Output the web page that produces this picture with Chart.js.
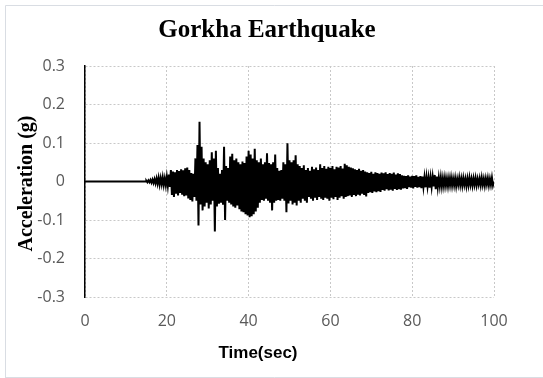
<!DOCTYPE html>
<html>
<head>
<meta charset="utf-8">
<script src="https://cdn.jsdelivr.net/npm/chart.js@4/dist/chart.umd.min.js"></script>
<style>
  html, body { margin: 0; padding: 0; background: #ffffff; }
  #wrap { position: relative; width: 543px; height: 378px; }
</style>
</head>
<body>
<div id="wrap"><canvas id="c" width="543" height="378"></canvas></div>
<script>
// Gorkha earthquake ground-motion record: acceleration (g) against time (s)
const chartTitle = 'Gorkha Earthquake';
const xAxisTitle = 'Time(sec)';
const yAxisTitle = 'Acceleration (g)';

const xTicks = [0, 20, 40, 60, 80, 100];
const yTicks = [0.3, 0.2, 0.1, 0, -0.1, -0.2, -0.3];

// quiet lead-in before the shaking arrives
const quietTime = [0, 15];
const quietAccel = [0, 0];

// strong-motion part, sampled every 0.25 s from 15 s to 100 s
const motionStart = 15;
const motionStep = 0.25;
const motionAccel = [
  0.002,-0.002, 0.003,-0.002, 0.004,-0.003, 0.005,-0.004, 0.006,-0.005, 0.008,-0.006, 0.010,-0.008, 0.009,-0.007, 0.011,-0.009, 0.008,-0.010,
  0.012,-0.011, 0.018,-0.014, 0.030,-0.035, 0.026,-0.040, 0.024,-0.032, 0.030,-0.036, 0.027,-0.030, 0.032,-0.034, 0.029,-0.038, 0.034,-0.036,
  0.036,-0.044, 0.030,-0.048, 0.022,-0.052, 0.020,-0.040, 0.060,-0.050, 0.095,-0.114, 0.155,-0.060, 0.090,-0.075, 0.060,-0.065, 0.050,-0.055,
  0.045,-0.070, 0.055,-0.060, 0.076,-0.050, 0.060,-0.130, 0.080,-0.065, 0.035,-0.058, 0.020,-0.055, 0.030,-0.060, 0.090,-0.100, 0.040,-0.050,
  0.035,-0.055, 0.065,-0.060, 0.072,-0.065, 0.055,-0.068, 0.060,-0.062, 0.050,-0.072, 0.045,-0.078, 0.052,-0.080, 0.048,-0.085, 0.065,-0.088,
  0.080,-0.093, 0.070,-0.090, 0.060,-0.085, 0.085,-0.078, 0.055,-0.068, 0.050,-0.055, 0.060,-0.048, 0.045,-0.050, 0.050,-0.045, 0.073,-0.050,
  0.048,-0.055, 0.045,-0.075, 0.050,-0.055, 0.070,-0.050, 0.035,-0.048, 0.028,-0.050, 0.030,-0.045, 0.050,-0.050, 0.045,-0.080, 0.099,-0.057,
  0.055,-0.050, 0.050,-0.060, 0.055,-0.055, 0.068,-0.062, 0.045,-0.050, 0.040,-0.055, 0.035,-0.045, 0.042,-0.050, 0.030,-0.055, 0.035,-0.040,
  0.028,-0.045, 0.038,-0.050, 0.032,-0.042, 0.036,-0.048, 0.030,-0.040, 0.045,-0.045, 0.035,-0.048, 0.040,-0.042, 0.033,-0.045, 0.038,-0.050,
  0.035,-0.042, 0.040,-0.046, 0.032,-0.040, 0.038,-0.048, 0.036,-0.042, 0.040,-0.038, 0.034,-0.045, 0.046,-0.040, 0.042,-0.038, 0.038,-0.036,
  0.036,-0.040, 0.034,-0.035, 0.032,-0.038, 0.030,-0.034, 0.033,-0.036, 0.028,-0.032, 0.030,-0.035, 0.026,-0.039, 0.024,-0.030, 0.022,-0.028,
  0.025,-0.030, 0.020,-0.026, 0.024,-0.028, 0.022,-0.025, 0.020,-0.027, 0.023,-0.022, 0.021,-0.024, 0.024,-0.020, 0.019,-0.023, 0.022,-0.021,
  0.020,-0.024, 0.023,-0.019, 0.018,-0.022, 0.021,-0.020, 0.019,-0.021, 0.016,-0.018, 0.015,-0.017, 0.014,-0.019, 0.016,-0.015, 0.013,-0.016,
  0.015,-0.018, 0.014,-0.014, 0.016,-0.016, 0.012,-0.015, 0.014,-0.017, 0.013,-0.014, 0.011,-0.015, 0.012,-0.013, 0.010,-0.016, 0.011,-0.014,
  0.012,-0.013, 0.017,-0.020, 0.013,-0.015, 0.010,-0.012, 0.011,-0.013, 0.009,-0.012, 0.010,-0.011, 0.008,-0.012, 0.009,-0.010, 0.010,-0.011,
  0.008,-0.010, 0.009,-0.012, 0.007,-0.009, 0.010,-0.010, 0.008,-0.011, 0.009,-0.009, 0.007,-0.012, 0.008,-0.010, 0.010,-0.009, 0.007,-0.011,
  0.008,-0.009, 0.009,-0.010, 0.007,-0.008, 0.008,-0.010, 0.010,-0.009, 0.007,-0.011, 0.008,-0.008, 0.009,-0.010, 0.007,-0.009, 0.010,-0.010,
  0.000
];

const points = quietTime.map((t, i) => ({ x: t, y: quietAccel[i] }))
  .concat(motionAccel.map((a, i) => ({ x: motionStart + i * motionStep, y: a })));

const tickFont = { family: "'Open Sans', sans-serif", size: 16 };
const tickColor = '#595959';
const gridColor = '#c8c8c8';

// frame and serif/sans titles drawn around the plot
const decorations = {
  id: 'decorations',
  beforeDraw(chart) {
    const ctx = chart.ctx;
    ctx.save();
    ctx.fillStyle = '#ffffff';
    ctx.fillRect(0, 0, chart.width, chart.height);
    ctx.strokeStyle = '#d9dde3';
    ctx.lineWidth = 1;
    ctx.beginPath();
    ctx.moveTo(5.5, chart.height);
    ctx.lineTo(5.5, 5.5);
    ctx.lineTo(chart.width, 5.5);
    ctx.moveTo(5.5, 377.5);
    ctx.lineTo(chart.width, 377.5);
    ctx.stroke();
    ctx.restore();
  },
  afterDraw(chart) {
    const ctx = chart.ctx;
    const area = chart.chartArea;
    ctx.save();
    ctx.fillStyle = '#000000';
    ctx.textAlign = 'center';
    ctx.textBaseline = 'alphabetic';
    ctx.font = "bold 25px 'Liberation Serif', 'Times New Roman', serif";
    ctx.fillText(chartTitle, 267, 37);

    ctx.font = "bold 17px 'Liberation Sans', Arial, sans-serif";
    ctx.textBaseline = 'middle';
    ctx.fillText(xAxisTitle, 258, 353);

    ctx.translate(27, (area.top + area.bottom) / 2 + 2);
    ctx.rotate(-Math.PI / 2);
    ctx.font = "bold 20px 'Liberation Serif', 'Times New Roman', serif";
    ctx.fillText(yAxisTitle, 0, 0);
    ctx.restore();
  }
};

new Chart(document.getElementById('c'), {
  type: 'line',
  data: {
    datasets: [{
      data: points,
      borderColor: '#000000',
      borderWidth: 2,
      pointRadius: 0,
      tension: 0,
      fill: false
    }]
  },
  options: {
    responsive: false,
    animation: false,
    parsing: false,
    layout: { padding: { top: 66, left: 0, right: 49, bottom: 0 } },
    plugins: {
      legend: { display: false },
      tooltip: { enabled: false },
      title: { display: false }
    },
    scales: {
      x: {
        type: 'linear',
        min: 0,
        max: 100,
        afterFit(scale) { scale.height = 81; },
        afterBuildTicks(scale) { scale.ticks = xTicks.map(v => ({ value: v })); },
        ticks: {
          font: tickFont,
          color: tickColor,
          padding: 15,
          maxRotation: 0,
          callback: v => String(v)
        },
        grid: { color: gridColor, lineWidth: 1, drawTicks: false },
        border: { display: false, dash: [2, 2] }
      },
      y: {
        type: 'linear',
        min: -0.3,
        max: 0.3,
        afterFit(scale) { scale.width = 85; },
        afterBuildTicks(scale) { scale.ticks = yTicks.map(v => ({ value: v })); },
        ticks: {
          font: tickFont,
          color: tickColor,
          padding: 20,
          callback: v => String(Math.round(v * 10) / 10)
        },
        grid: { color: gridColor, lineWidth: 1, drawTicks: false },
        border: { display: true, color: '#000000', width: 1.5, dash: [2, 2] }
      }
    }
  },
  plugins: [decorations]
});
</script>
</body>
</html>
